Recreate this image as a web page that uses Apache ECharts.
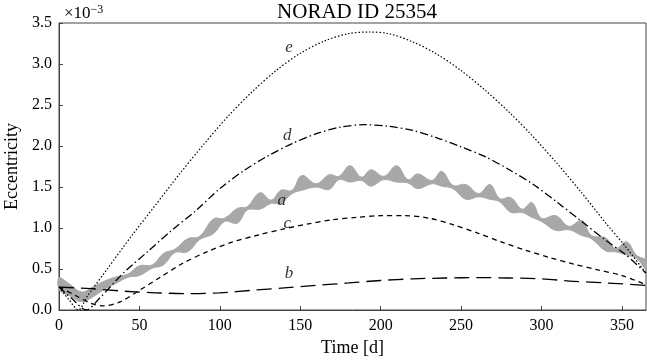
<!DOCTYPE html>
<html>
<head>
<meta charset="utf-8">
<script src="https://cdn.jsdelivr.net/npm/echarts@6/dist/echarts.min.js"></script>
<style>
  html, body { margin: 0; padding: 0; background: #fff; }
  #chart { width: 647px; height: 362px; }
</style>
</head>
<body>
<div id="chart"></div>
<script>
// curve e (dotted)
const curveE = [[0,.28],[6,.13],[12,0],[18,.18],[30,.50],[45,.90],[60,1.28],[75,1.66],[90,2.02],[105,2.36],
  [120,2.66],[135,2.92],[150,3.13],[165,3.28],[180,3.37],[193,3.39],[205,3.37],[220,3.27],[235,3.12],
  [250,2.92],[265,2.68],[280,2.41],[295,2.11],[310,1.78],[325,1.43],[340,1.06],[352,.78],[365,.45]];
// curve d (dash-dot)
const curveD = [[0,.28],[8,.14],[17,0],[25,.14],[40,.45],[55,.71],[70,.97],[85,1.21],[100,1.48],[115,1.70],
  [130,1.88],[145,2.03],[160,2.15],[175,2.23],[190,2.26],[205,2.24],[220,2.19],[235,2.10],[250,1.99],
  [265,1.87],[280,1.71],[295,1.53],[310,1.31],[325,1.08],[340,.85],[352,.68],[365,.45]];
// curve c (dashed)
const curveC = [[0,.28],[10,.18],[20,.08],[28,.05],[38,.1],[50,.24],[63,.4],[77,.57],[92,.71],[108,.83],
  [125,.92],[140,.99],[155,1.05],[170,1.10],[185,1.13],[200,1.15],[215,1.15],[230,1.12],[245,1.04],
  [260,.94],[275,.83],[290,.73],[305,.64],[320,.56],[335,.49],[350,.42],[365,.31]];
// curve b (long dash)
const curveB = [[0,.28],[20,.26],[40,.23],[60,.21],[80,.2],[100,.21],[120,.24],[140,.27],[160,.3],[180,.33],
  [200,.36],[220,.38],[240,.39],[260,.395],[280,.39],[300,.38],[320,.35],[340,.33],[365,.3]];

// curve a (grey band): time, lower edge, upper edge
const bandTime = [0,7,14,21,28,35,43,50,58,65,72,80,87.5,96,103,111,117,125,132,138,145,151,160,168,174,181,
  188,194,202,210,217,223,232,238,245,253,261,268,274,281,288,294,300,309,317,325,331,340,346,353,359,365];
const bandLow = [.24,.17,.10,.16,.25,.32,.40,.42,.51,.55,.70,.71,.86,.93,1.08,1.06,1.22,1.23,1.30,1.30,1.42,1.46,
  1.50,1.47,1.59,1.56,1.58,1.51,1.59,1.56,1.55,1.48,1.54,1.51,1.48,1.35,1.38,1.35,1.32,1.19,1.19,1.13,1.08,
  .97,.98,.91,.87,.72,.71,.67,.63,.49];
const bandHigh = [.40,.31,.22,.28,.35,.40,.44,.54,.55,.69,.74,.87,.90,1.11,1.12,1.24,1.26,1.43,1.34,1.46,1.46,1.64,
  1.54,1.65,1.63,1.76,1.62,1.71,1.63,1.76,1.59,1.66,1.58,1.69,1.52,1.53,1.42,1.53,1.36,1.37,1.23,1.31,1.12,
  1.15,1.02,1.09,.91,.88,.75,.83,.67,.61];

// curve name labels
const curveLabels = [
  {name: 'e', value: [143, 3.2]},
  {name: 'd', value: [142, 2.13]},
  {name: 'a', value: [138.5, 1.34]},
  {name: 'c', value: [142, 1.05]},
  {name: 'b', value: [143, 0.45]}
];

const serif = '"Liberation Serif", "DejaVu Serif", serif';
const chart = echarts.init(document.getElementById('chart'));

function lineSeries(data, dash, width) {
  return {
    type: 'line',
    data: data,
    smooth: 0.3,
    symbol: 'none',
    silent: true,
    z: 3,
    lineStyle: {color: '#000', width: width, type: dash}
  };
}

const option = {
  backgroundColor: '#fff',
  animation: false,
  title: [{
    text: 'NORAD ID 25354',
    left: 352,
    textAlign: 'center',
    top: -3,
    textStyle: {fontFamily: serif, fontWeight: 'normal', fontSize: 21, color: '#000'}
  }, {
    text: '×10{s|−3}',
    left: 59,
    top: -1,
    textStyle: {
      fontFamily: serif, fontWeight: 'normal', fontSize: 17, color: '#000',
      rich: {s: {fontFamily: serif, fontSize: 12, verticalAlign: 'top', padding: [0, 0, 8, 0], color: '#000'}}
    }
  }],
  grid: {
    left: 59, right: 1, top: 23, bottom: 52,
    outerBoundsMode: 'none',
    containLabel: false,
    show: true, borderColor: '#444', borderWidth: 1
  },
  xAxis: {
    type: 'value',
    min: 0, max: 365, interval: 50,
    name: 'Time [d]',
    nameLocation: 'middle',
    nameGap: 25,
    nameTextStyle: {fontFamily: serif, fontSize: 18, color: '#000'},
    axisLine: {show: true, lineStyle: {color: '#444'}},
    axisTick: {show: true, inside: true, length: 4, lineStyle: {color: '#444'}},
    axisLabel: {fontFamily: serif, fontSize: 16, color: '#000', margin: 8,
      showMaxLabel: false},
    splitLine: {show: false}
  },
  yAxis: {
    type: 'value',
    min: 0, max: 3.5, interval: 0.5,
    name: 'Eccentricity',
    nameLocation: 'middle',
    nameGap: 34,
    nameTextStyle: {fontFamily: serif, fontSize: 18, color: '#000'},
    axisLine: {show: true, lineStyle: {color: '#444'}},
    axisTick: {show: true, inside: true, length: 4, lineStyle: {color: '#444'}},
    axisLabel: {fontFamily: serif, fontSize: 16, color: '#000', margin: 7,
      formatter: v => v.toFixed(1)},
    splitLine: {show: false}
  },
  series: [
    {
      // grey band: polygon along the upper edge and back along the lower edge
      type: 'custom',
      data: [0],
      silent: true,
      z: 2,
      renderItem: function (params, api) {
        const upper = bandTime.map((t, i) => api.coord([t, bandHigh[i]]));
        const lower = bandTime.map((t, i) => api.coord([t, bandLow[i]])).reverse();
        return {
          type: 'group',
          children: [
            {type: 'polyline', shape: {points: upper, smooth: 0.4}, style: {stroke: '#a8a8a8', lineWidth: 1, fill: null}},
            {type: 'polyline', shape: {points: lower, smooth: 0.4}, style: {stroke: '#a8a8a8', lineWidth: 1, fill: null}},
            {type: 'polygon', shape: {points: upper.concat(lower), smooth: 0.4}, style: {fill: '#a8a8a8'}}
          ]
        };
      }
    },
    lineSeries(curveE, [1.5, 2], 1.2),
    lineSeries(curveD, [8, 3, 1.5, 3], 1.3),
    lineSeries(curveC, [5, 4], 1.3),
    lineSeries(curveB, [15, 7], 1.3),
    {
      type: 'scatter',
      data: curveLabels,
      symbolSize: 0,
      silent: true,
      z: 5,
      label: {
        show: true,
        position: 'inside',
        formatter: p => p.name,
        fontFamily: serif,
        fontStyle: 'italic',
        fontSize: 17,
        color: '#000'
      }
    }
  ]
};

chart.setOption(option);
</script>
</body>
</html>
